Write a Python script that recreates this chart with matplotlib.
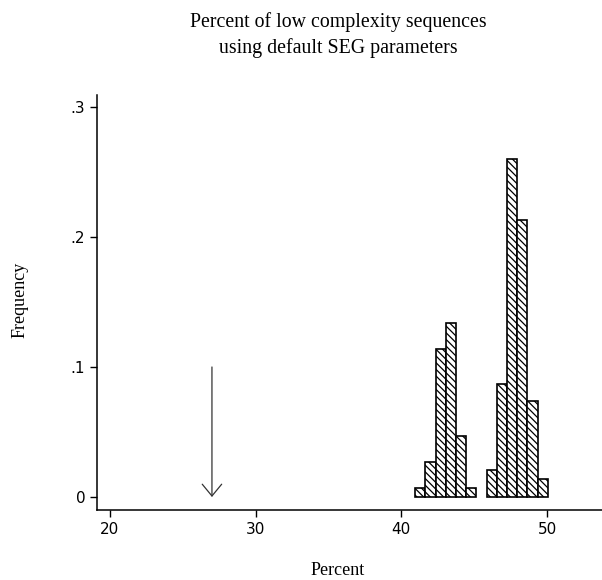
import numpy as np
import matplotlib
matplotlib.use("Agg")
import matplotlib.pyplot as plt

# histogram of percent low complexity (bin width 0.7)
bin_left = [40.95, 41.65, 42.35, 43.05, 43.75, 44.45, 45.15,
            45.85, 46.55, 47.25, 47.95, 48.65, 49.35]
freq = [0.007, 0.027, 0.114, 0.134, 0.047, 0.007, 0.0,
        0.0205, 0.087, 0.260, 0.213, 0.074, 0.0136]
bin_width = 0.7

arrow_x = 27
arrow_top = 0.1

xticks = [20, 30, 40, 50]
yticks = [0, 0.1, 0.2, 0.3]
ytick_labels = ["0", ".1", ".2", ".3"]

serif = ["Liberation Serif", "DejaVu Serif"]

fig = plt.figure(figsize=(6.02, 5.8), dpi=100)
ax = fig.add_axes([0.1611, 0.1207, 0.8389, 0.7155])

plt.rcParams["hatch.linewidth"] = 0.9
xs = [b for b, f in zip(bin_left, freq) if f > 0]
hs = [f for f in freq if f > 0]
ax.bar(xs, hs, width=bin_width, align="edge", facecolor="white",
       edgecolor="black", linewidth=1.2, hatch="\\\\\\\\\\")

ax.annotate("", xy=(arrow_x, 0), xytext=(arrow_x, arrow_top),
            arrowprops=dict(arrowstyle="->,head_length=0.85,head_width=0.7",
                            color="#333333", lw=0.9, shrinkA=0, shrinkB=0))

ax.set_xlim(19.108, 53.775)
ax.set_ylim(-0.01, 0.3092)
ax.set_xticks(xticks)
ax.set_yticks(yticks)
ax.set_yticklabels(ytick_labels)
ax.tick_params(length=5, width=1, color="black")
for lab in ax.get_xticklabels() + ax.get_yticklabels():
    lab.set_fontfamily("DejaVu Sans")
    lab.set_fontsize(11)
for s in ["top", "right"]:
    ax.spines[s].set_visible(False)
for s in ["left", "bottom"]:
    ax.spines[s].set_linewidth(1.1)

fig.text(0.5615, 0.962, "Percent of low complexity sequences", ha="center",
         va="center", fontsize=14.3, family=serif)
fig.text(0.5615, 0.917, "using default SEG parameters", ha="center",
         va="center", fontsize=14.3, family=serif)
fig.text(0.034, 0.483, "Frequency", rotation=90, ha="center", va="center",
         fontsize=13, family=serif)
fig.text(0.5615, 0.017, "Percent", ha="center", va="center",
         fontsize=13, family=serif)

fig.savefig("out.png", dpi=100)
